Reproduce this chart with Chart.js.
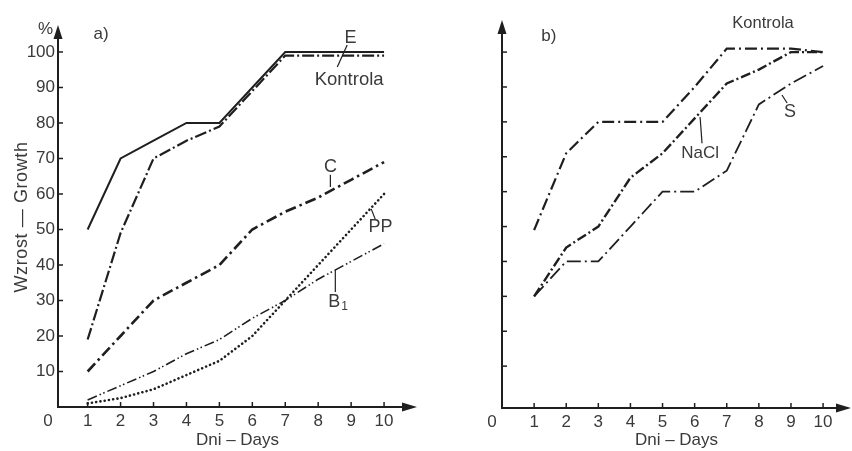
<!DOCTYPE html>
<html><head><meta charset="utf-8">
<script src="https://cdn.jsdelivr.net/npm/chart.js@4"></script>
<style>
html,body{margin:0;padding:0;background:#fff;overflow:hidden}
#wrap{position:relative;width:852px;height:451px;background:#fff}
canvas{position:absolute;top:0}
#ca{left:0}
#cb{left:426px}
</style></head><body>
<div id="wrap"><canvas id="ca" width="426" height="451"></canvas><canvas id="cb" width="426" height="451"></canvas></div>
<script>
// ---- data ----
const days = [1, 2, 3, 4, 5, 6, 7, 8, 9, 10];
const xTickLabels = ['1', '2', '3', '4', '5', '6', '7', '8', '9', '10'];
const yTickValues = [10, 20, 30, 40, 50, 60, 70, 80, 90, 100];
const yTickLabels = ['10', '20', '30', '40', '50', '60', '70', '80', '90', '100'];

// panel a)
const aE        = [50, 70, 75, 80, 80, 90, 100, 100, 100, 100];
const aKontrola = [19, 49, 70, 75, 79, 89, 99, 99, 99, 99];
const aC        = [10, 20, 30, 35, 40, 50, 55, 59, 64, 69];
const aPP       = [1, 2.5, 5, 9, 13, 20, 30, 40, 50, 60];
const aB1       = [2, 6, 10, 15, 19, 25, 30, 36, 41, 46];

// panel b)
const bKontrola = [49, 71, 80, 80, 80, 90, 101, 101, 101, 100];
const bNaCl     = [30, 44, 50, 64, 71, 81, 91, 95, 100, 100];
const bS        = [30, 40, 40, 50, 60, 60, 66, 85, 91, 96];

// ---- styling ----
const INK = '#1f1f1f';
const TXT = '#3a3a3a';
const FAM = "'Liberation Sans', Arial, sans-serif";

function pts(vals) { return days.map((d, i) => ({ x: d, y: vals[i] })); }
function ds(label, vals, dash, width) {
  return { label, data: pts(vals), borderColor: INK, borderWidth: width,
           borderDash: dash, borderCapStyle: 'butt', fill: false, pointRadius: 0, tension: 0 };
}

const decor = {
  id: 'decor',
  afterDatasetsDraw(chart, args, o) {
    const { ctx, chartArea: ca, scales: { x, y } } = chart;
    const x0 = ca.left, y0 = ca.bottom;
    ctx.save();
    ctx.strokeStyle = INK; ctx.fillStyle = INK;
    ctx.lineWidth = 2;
    ctx.beginPath(); ctx.moveTo(x0, y0); ctx.lineTo(x0, ca.top + 10); ctx.stroke();
    ctx.beginPath(); ctx.moveTo(x0, ca.top); ctx.lineTo(x0 - 4.5, ca.top + 14); ctx.lineTo(x0 + 4.5, ca.top + 14); ctx.closePath(); ctx.fill();
    ctx.beginPath(); ctx.moveTo(x0 - 1, y0); ctx.lineTo(ca.right - 10, y0); ctx.stroke();
    ctx.beginPath(); ctx.moveTo(ca.right, y0); ctx.lineTo(ca.right - 15, y0 - 4.5); ctx.lineTo(ca.right - 15, y0 + 4.5); ctx.closePath(); ctx.fill();
    ctx.lineWidth = 1.5;
    yTickValues.forEach(v => { const p = y.getPixelForValue(v); ctx.beginPath(); ctx.moveTo(x0, p); ctx.lineTo(x0 + 5, p); ctx.stroke(); });
    days.forEach(v => { const p = x.getPixelForValue(v); ctx.beginPath(); ctx.moveTo(p, y0); ctx.lineTo(p, y0 - 5); ctx.stroke(); });
    // leaders
    ctx.lineWidth = 1.2;
    (o.leaders || []).forEach(l => {
      ctx.beginPath(); ctx.moveTo(x.getPixelForValue(l[0]), y.getPixelForValue(l[1]));
      ctx.lineTo(x.getPixelForValue(l[2]), y.getPixelForValue(l[3])); ctx.stroke();
    });
    // texts
    ctx.fillStyle = TXT; ctx.textAlign = 'center'; ctx.textBaseline = 'middle';
    (o.texts || []).forEach(t => {
      ctx.font = `${t.size}px ${FAM}`;
      const px = x.getPixelForValue(t.x), py = y.getPixelForValue(t.y);
      if (t.sub) {
        const w = ctx.measureText(t.text).width;
        ctx.textAlign = 'left';
        ctx.fillText(t.text, px - w / 2 - 3, py);
        ctx.font = `${Math.round(t.size * 0.65)}px ${FAM}`;
        ctx.fillText(t.sub, px + w / 2 - 2, py + 5);
        ctx.textAlign = 'center';
      } else {
        ctx.fillText(t.text, px, py);
      }
    });
    // origin 0
    ctx.font = `17px ${FAM}`;
    ctx.fillText('0', x0 - 10, y0 + 14);
    // axis titles
    ctx.font = `17px ${FAM}`;
    ctx.fillText('Dni – Days', (ca.left + ca.right) / 2, 440);
    if (o.yTitle) {
      ctx.save();
      ctx.translate(22, 217);
      ctx.rotate(-Math.PI / 2);
      ctx.font = `18px ${FAM}`;
      ctx.letterSpacing = '0.6px';
      ctx.fillText(o.yTitle, 0, 0);
      ctx.restore();
    }
    ctx.restore();
  }
};

function makeChart(id, datasets, c) {
  return new Chart(document.getElementById(id), {
    type: 'line',
    data: { datasets },
    plugins: [decor],
    options: {
      responsive: false, animation: false, devicePixelRatio: 1,
      layout: { padding: { top: c.top, right: c.right, left: 0, bottom: 0 } },
      plugins: { legend: { display: false }, tooltip: { enabled: false }, decor: c.decor },
      scales: {
        x: {
          type: 'linear', min: c.xmin, max: c.xmax,
          afterFit: s => { s.height = 451 - c.bottom; },
          afterBuildTicks: s => { s.ticks = days.map(v => ({ value: v })); },
          grid: { display: false, drawTicks: false }, border: { display: false },
          ticks: { padding: 4, autoSkip: false, maxRotation: 0, color: TXT,
                   font: { family: FAM, size: 17 },
                   callback: v => xTickLabels[days.indexOf(v)] }
        },
        y: {
          type: 'linear', min: c.ymin, max: c.ymax,
          afterFit: s => { s.width = c.left; },
          afterBuildTicks: s => { s.ticks = yTickValues.map(v => ({ value: v })); },
          grid: { display: false, drawTicks: false }, border: { display: false },
          ticks: { display: c.yLabels, padding: 3, color: TXT, font: { family: FAM, size: 17 },
                   callback: v => yTickLabels[yTickValues.indexOf(v)] }
        }
      }
    }
  });
}

makeChart('ca', [
  ds('E', aE, [], 2),
  ds('Kontrola', aKontrola, [12, 3, 2, 3], 2.2),
  ds('C', aC, [11, 4, 2.5, 4], 2.6),
  { ...ds('PP', aPP, [0.1, 4.2], 2.6), borderCapStyle: 'round' },
  ds('B1', aB1, [10, 3, 1.5, 2.5, 1.5, 3], 1.6)
], {
  top: 25, right: 9, left: 58, bottom: 407, xmin: 0.1, xmax: 11.0, ymin: 0, ymax: 107.6, yLabels: true,
  decor: {
    yTitle: 'Wzrost — Growth',
    leaders: [[8.88, 102, 8.58, 95.8], [8.37, 65.4, 8.37, 62], [9.61, 55.8, 9.74, 52.7], [8.52, 38.6, 8.52, 32.4]],
    texts: [
      { text: 'E', x: 8.98, y: 103.9, size: 18 },
      { text: 'Kontrola', x: 8.94, y: 92.1, size: 18.5 },
      { text: 'C', x: 8.37, y: 67.6, size: 18 },
      { text: 'PP', x: 9.89, y: 50.7, size: 18 },
      { text: 'B', sub: '1', x: 8.58, y: 29.6, size: 18 },
      { text: 'a)', x: 1.41, y: 105, size: 17 },
      { text: '%', x: -0.28, y: 106.3, size: 17 }
    ]
  }
});

makeChart('cb', [
  ds('Kontrola', bKontrola, [12, 4, 2, 4], 2.2),
  ds('NaCl', bNaCl, [10, 3, 2, 3], 2.4),
  ds('S', bS, [14, 4, 2, 4], 1.8)
], {
  top: 20, right: 1, left: 76, bottom: 408, xmin: 0, xmax: 10.87, ymin: -2, ymax: 109.2, yLabels: false,
  decor: {
    leaders: [[6.17, 81.4, 6.23, 73.9], [8.72, 87.7, 8.88, 85.4]],
    texts: [
      { text: 'Kontrola', x: 8.13, y: 108.3, size: 16.5 },
      { text: 'NaCl', x: 6.17, y: 71.1, size: 17 },
      { text: 'S', x: 8.97, y: 82.8, size: 18 },
      { text: 'b)', x: 1.46, y: 104.6, size: 17 }
    ]
  }
});
</script>
</body></html>
